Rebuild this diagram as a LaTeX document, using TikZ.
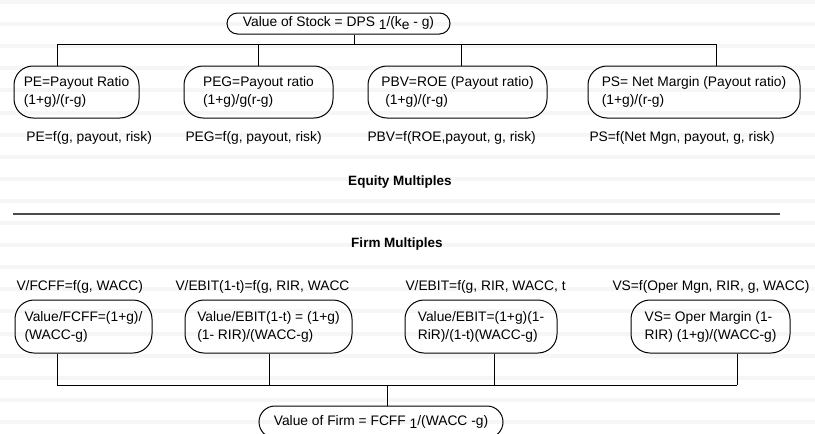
\documentclass[tikz,border=0pt]{standalone}
\usepackage{fontspec}
\setmainfont{Liberation Sans}

\begin{document}
\begin{tikzpicture}[x=1pt,y=-1pt,line width=1pt,
  font=\fontsize{13.8}{18}\selectfont,
  mbox/.style={draw, rounded corners=19pt, align=left, minimum height=52pt},
  pill/.style={draw, rounded corners=10.5pt, minimum height=21pt, inner ysep=1pt},
  lbl/.style={anchor=west, inner sep=0pt},
  head/.style={font=\fontsize{13.5}{15}\selectfont\bfseries},
  stripe/.style={fill=gray!7}]

\useasboundingbox (0,0) rectangle (815,434);
\clip (0,0) rectangle (815,434);

% Background stripes
\foreach \k in {0,...,19}
  \fill[stripe] (0,22.1*\k) rectangle (815,22.1*\k+4);

% Value of stock
\node[pill, minimum width=223pt] (stock) at (338.5,23.5)
  {Value of Stock = DPS \raisebox{-3pt}{1}/(k\raisebox{-3pt}{e} - g)};

% Equity multiples
\node[mbox, minimum width=125pt] (pe) at (76.5,92) {PE=Payout Ratio\\(1+g)/(r-g)};
\node[mbox, minimum width=149pt] (peg) at (258.5,92) {PEG=Payout ratio\\(1+g)/g(r-g)};
\node[mbox, minimum width=179pt] (pbv) at (457.5,92) {PBV=ROE (Payout ratio)\\\hspace*{4pt}(1+g)/(r-g)};
\node[mbox, minimum width=212pt] (ps) at (694,92) {PS= Net Margin (Payout ratio)\\(1+g)/(r-g)};

\draw (stock.south -| 354,0) -- (354,44);
\draw (57,44) -- (716,44);
\foreach \n/\x in {pe/57, peg/258, pbv/461, ps/716}
  \draw (\x,44) -- (\n.north -| \x,0);

\node[lbl] (pef) at (26,138) {PE=f(g, payout, risk)};
\node[lbl] (pegf) at (185,138) {PEG=f(g, payout, risk)};
\node[lbl] (pbvf) at (367,138) {PBV=f(ROE,payout, g, risk)};
\node[lbl] (psf) at (589,138) {PS=f(Net Mgn, payout, g, risk)};

% Headings
\node[head] (eqm) at (400,182) {Equity Multiples};
\draw[line width=1.2pt, black!70] (13,214) -- (780,214);
\node[head] (fmm) at (397,244) {Firm Multiples};

% Firm multiples
\node[lbl] (fcfff) at (16,287) {V/FCFF=f(g, WACC)};
\node[lbl] (ebit1f) at (175,287) {V/EBIT(1-t)=f(g, RIR, WACC};
\node[lbl] (ebitf) at (405,287) {V/EBIT=f(g, RIR, WACC, t};
\node[lbl] (vsf) at (612,287) {VS=f(Oper Mgn, RIR, g, WACC)};

\node[mbox, minimum width=137pt, minimum height=53pt] (fcff) at (83.5,326.5) {Value/FCFF=(1+g)/\\(WACC-g)};
\node[mbox, minimum width=167pt, minimum height=53pt] (ebit1) at (268.5,326.5) {Value/EBIT(1-t) = (1+g)\\(1- RIR)/(WACC-g)};
\node[mbox, minimum width=152pt, minimum height=53pt] (ebit) at (481,326.5) {Value/EBIT=(1+g)(1-\\RiR)/(1-t)(WACC-g)};
\node[mbox, minimum width=159pt, minimum height=53pt] (vs) at (710.5,326.5) {VS= Oper Margin (1-\\RIR) (1+g)/(WACC-g)};

\foreach \n/\x in {fcff/57, ebit1/269, ebit/494, vs/737}
  \draw (\n.south -| \x,0) -- (\x,385);
\draw (57,385) -- (737,385);

% Value of firm
\node[pill, minimum width=244pt, minimum height=32pt, rounded corners=16pt] (firm) at (381,422)
  {Value of Firm = FCFF \raisebox{-3pt}{1}/(WACC -g)};
\draw (387,385) -- (firm.north -| 387,0);

\end{tikzpicture}
\end{document}
